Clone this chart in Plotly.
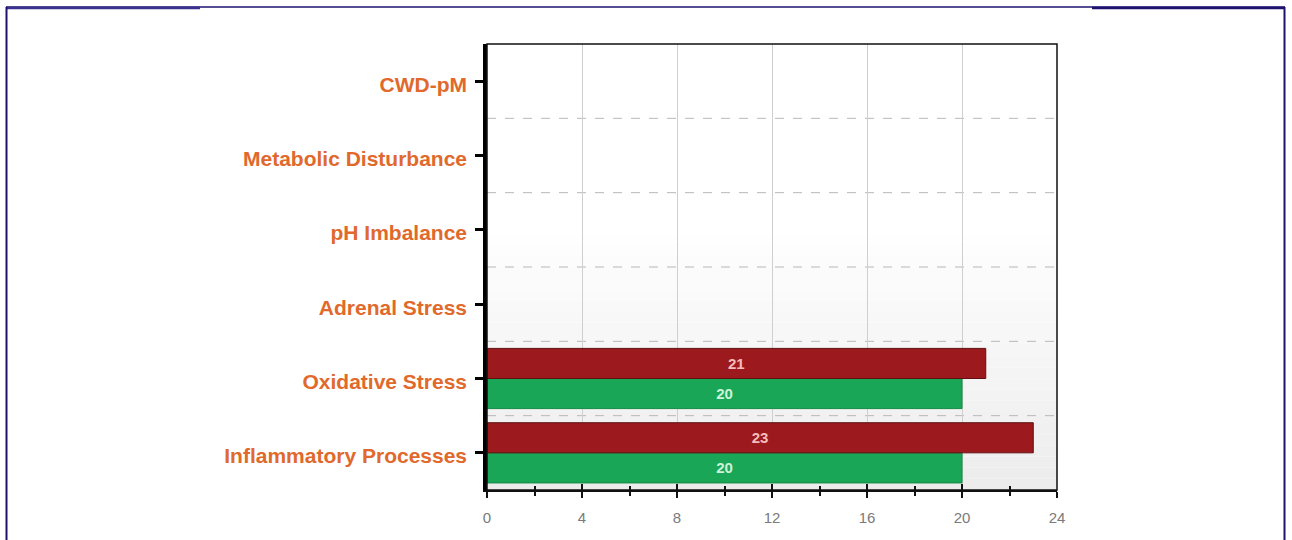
import plotly.graph_objects as go

categories = ["CWD-pM", "Metabolic Disturbance", "pH Imbalance",
              "Adrenal Stress", "Oxidative Stress", "Inflammatory Processes"]
green_values = [None, None, None, None, 20, 20]
red_values = [None, None, None, None, 21, 23]
x_ticks = [0, 4, 8, 12, 16, 20, 24]

W, H = 1292, 540
L, R, T, B = 487, 1057, 44, 490


def px(p):
    return (p - L) / (R - L)


def py(p):
    return (B - p) / (B - T)


fig = go.Figure()

fig.add_trace(go.Bar(
    y=categories, x=green_values, orientation="h", name="Green",
    marker=dict(color="#19a757", line=dict(color="#128a45", width=1)),
    text=[str(v) if v is not None else "" for v in green_values],
    textposition="inside", insidetextanchor="middle",
    textfont=dict(color="#cdf3d9", size=15, family="Liberation Sans, Arial", weight="bold"),
    hoverinfo="x+y",
))
fig.add_trace(go.Bar(
    y=categories, x=red_values, orientation="h", name="Red",
    marker=dict(color="#9c1a1d", line=dict(color="#5e1011", width=1)),
    text=[str(v) if v is not None else "" for v in red_values],
    textposition="inside", insidetextanchor="middle",
    textfont=dict(color="#f6bcbc", size=15, family="Liberation Sans, Arial", weight="bold"),
    hoverinfo="x+y",
))
# invisible trace to anchor secondary x axis (inner tick marks)
fig.add_trace(go.Scatter(x=[x_ticks[0]], y=[categories[0]], xaxis="x2", mode="markers",
                         marker=dict(opacity=0), showlegend=False, hoverinfo="skip"))

shapes = []
# gradient background of plot area
n = 40
for i in range(n):
    y0 = i / n
    y1 = (i + 1) / n
    t = max(0.0, 1 - (y0 + y1) / 2 / 0.6)
    g = round(255 - 19 * t)
    shapes.append(dict(type="rect", xref="x domain", yref="y domain", x0=0, x1=1,
                       y0=y0, y1=y1, fillcolor=f"rgb({g},{g},{g})",
                       line=dict(width=0), layer="below"))
# dashed category separators
for i in range(1, len(categories)):
    shapes.append(dict(type="line", xref="x domain", yref="y", x0=0, x1=1,
                       y0=i - 0.5, y1=i - 0.5,
                       line=dict(color="#b8b8b8", width=1, dash="dash"), layer="below"))
# plot frame
shapes.append(dict(type="rect", xref="x domain", yref="y domain", x0=0, x1=1, y0=0, y1=1,
                   line=dict(color="#111111", width=1.5), layer="above"))
# outer page border
navy = "#1d136e"
shapes.append(dict(type="line", xref="paper", yref="paper", x0=px(6), x1=px(1285),
                   y0=py(7), y1=py(7), line=dict(color=navy, width=1.5)))
shapes.append(dict(type="line", xref="paper", yref="paper", x0=px(6), x1=px(200),
                   y0=py(8), y1=py(8), line=dict(color="#3b3290", width=2.5)))
shapes.append(dict(type="line", xref="paper", yref="paper", x0=px(1092), x1=px(1285),
                   y0=py(8), y1=py(8), line=dict(color=navy, width=2.5)))
shapes.append(dict(type="line", xref="paper", yref="paper", x0=px(6.5), x1=px(6.5),
                   y0=py(7), y1=py(545), line=dict(color=navy, width=2)))
shapes.append(dict(type="line", xref="paper", yref="paper", x0=px(1284.5), x1=px(1284.5),
                   y0=py(7), y1=py(545), line=dict(color=navy, width=2)))

fig.update_layout(
    width=W, height=H,
    margin=dict(l=L, r=W - R, t=T, b=H - B, pad=0),
    paper_bgcolor="white", plot_bgcolor="white",
    barmode="group", bargap=0.19, bargroupgap=0,
    showlegend=False,
    shapes=shapes,
    xaxis=dict(
        range=[0, 24], tickvals=x_ticks, ticktext=[str(v) for v in x_ticks],
        showgrid=True, gridcolor="#cfcfcf", gridwidth=1,
        zeroline=False,
        showline=True, linecolor="#111111", linewidth=2,
        ticks="outside", ticklen=6, tickwidth=2, tickcolor="#111111",
        minor=dict(dtick=2, ticks="outside", ticklen=4, tickwidth=1.5,
                   tickcolor="#111111", showgrid=False),
        ticklabelstandoff=7,
        tickfont=dict(color="#7a7a7a", size=15, family="Liberation Sans, Arial"),
        fixedrange=True,
    ),
    xaxis2=dict(
        overlaying="x", matches="x", anchor="y", side="bottom",
        range=[0, 24], tickvals=x_ticks, showticklabels=False,
        showgrid=False, zeroline=False, showline=False,
        ticks="inside", ticklen=6, tickwidth=2, tickcolor="#111111",
        minor=dict(dtick=2, ticks="inside", ticklen=4, tickwidth=1.5,
                   tickcolor="#111111", showgrid=False),
    ),
    yaxis=dict(
        type="category", categoryorder="array", categoryarray=categories[::-1],
        range=[-0.5, len(categories) - 0.5],
        showgrid=False, zeroline=False,
        showline=True, linecolor="#000000", linewidth=3.5,
        ticks="outside", ticklen=8, tickwidth=2.5, tickcolor="#000000",
        ticklabelstandoff=4, ticklabelshift=3,
        tickfont=dict(color="#e0692b", size=21, family="Liberation Sans, Arial", weight="bold"),
        fixedrange=True,
    ),
)

fig.write_html("out.html", config={"displayModeBar": False},
               post_script="document.body.style.margin='0';document.body.style.overflow='hidden';")
